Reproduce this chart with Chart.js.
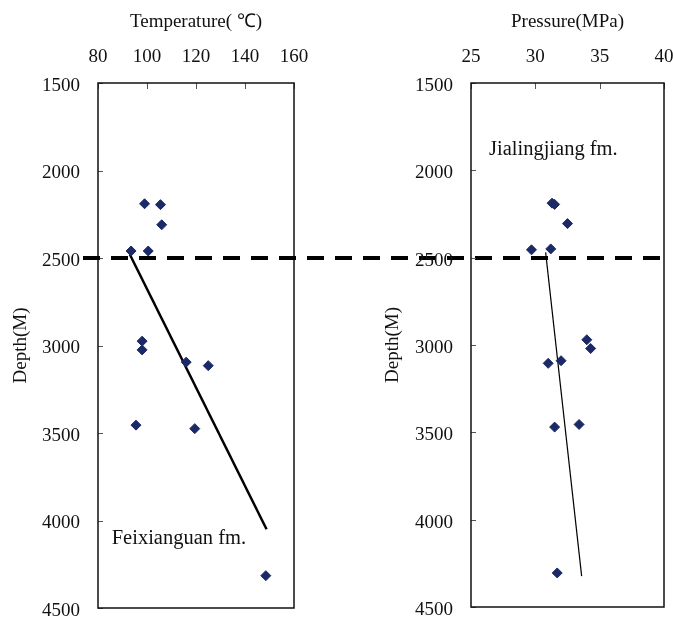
<!DOCTYPE html>
<html lang="en">
<head>
    <meta charset="UTF-8">
    <title>Temperature / Pressure vs Depth</title>
    <script src="https://cdn.jsdelivr.net/npm/chart.js"></script>
    <style>
        body, html {
            margin: 0;
            padding: 0;
            background: #fff;
        }
        .wrap {
            position: relative;
            width: 673px;
            height: 618px;
            background: #fff;
        }
        .wrap canvas {
            position: absolute;
            top: 0;
        }
    </style>
</head>
<body>
    <div class="wrap">
        <canvas id="tempChart" width="673" height="618" style="left:0"></canvas>
        <canvas id="presChart" width="333" height="618" style="left:340px"></canvas>
    </div>

    <script>
        // axis ticks
        const DEPTH_TICKS = [1500, 2000, 2500, 3000, 3500, 4000, 4500];
        const TEMP_TICKS = [80, 100, 120, 140, 160];
        const PRES_TICKS = [25, 30, 35, 40];

        // measured temperature (C) and depth (m)
        const tempValues = [99, 105.5, 106, 93.5, 100.5, 98, 98, 116, 125, 95.5, 119.5, 148.5];
        const tempDepths = [2190, 2195, 2310, 2460, 2460, 2975, 3025, 3095, 3115, 3455, 3475, 4315];

        // measured pressure (MPa) and depth (m)
        const presValues = [31.3, 31.5, 32.5, 29.7, 31.2, 34.0, 34.3, 31.0, 32.0, 31.5, 33.4, 31.7];
        const presDepths = [2188, 2195, 2305, 2455, 2450, 2970, 3020, 3105, 3090, 3470, 3455, 4305];

        // trend lines below the formation boundary
        const tempTrend = [93, 148.8];
        const tempTrendDepths = [2480, 4050];
        const presTrend = [30.8, 33.6];
        const presTrendDepths = [2470, 4323];

        // Jialingjiang / Feixianguan boundary
        const BOUNDARY_DEPTH = 2500;

        const FONT = "'Liberation Serif', 'Times New Roman', serif";
        const MARK = '#1B2A66';

        function pairs(xs, ys) {
            return xs.map((v, i) => ({ x: v, y: ys[i] }));
        }

        // box around the plot + short inward ticks
        const framePlugin = {
            id: 'frame',
            afterDatasetsDraw(chart) {
                const { ctx, chartArea: a, scales } = chart;
                ctx.save();
                ctx.strokeStyle = '#555';
                ctx.lineWidth = 1;
                ctx.beginPath();
                scales.y.ticks.forEach(t => {
                    const py = Math.round(scales.y.getPixelForValue(t.value)) + 0.5;
                    ctx.moveTo(a.left, py);
                    ctx.lineTo(a.left + 5, py);
                });
                scales.x.ticks.forEach(t => {
                    const px = Math.round(scales.x.getPixelForValue(t.value)) + 0.5;
                    ctx.moveTo(px, a.top);
                    ctx.lineTo(px, a.top + 6);
                });
                ctx.stroke();
                ctx.strokeStyle = '#111';
                ctx.lineWidth = 1.5;
                ctx.strokeRect(a.left, a.top, a.right - a.left, a.bottom - a.top);
                ctx.restore();
            }
        };

        // formation name written inside the plot
        const fmLabelPlugin = {
            id: 'fmLabel',
            afterDatasetsDraw(chart, args, opts) {
                if (!opts.text) return;
                const { ctx, scales } = chart;
                ctx.save();
                ctx.font = '20.5px ' + FONT;
                ctx.fillStyle = '#111';
                ctx.textBaseline = 'middle';
                ctx.textAlign = 'left';
                ctx.fillText(opts.text, scales.x.getPixelForValue(opts.x), scales.y.getPixelForValue(opts.y));
                ctx.restore();
            }
        };

        // dashed boundary line crossing both panels
        const boundaryPlugin = {
            id: 'boundary',
            afterDatasetsDraw(chart, args, opts) {
                if (!opts.depth) return;
                const { ctx, scales } = chart;
                const y = scales.y.getPixelForValue(opts.depth);
                ctx.save();
                ctx.strokeStyle = '#000';
                ctx.lineWidth = 4;
                ctx.setLineDash([17, 11]);
                ctx.beginPath();
                ctx.moveTo(opts.from, y);
                ctx.lineTo(opts.to, y);
                ctx.stroke();
                ctx.restore();
            }
        };

        function makePanel(id, cfg) {
            return new Chart(document.getElementById(id), {
                type: 'scatter',
                data: {
                    datasets: [{
                        data: pairs(cfg.values, cfg.depths),
                        pointStyle: 'rectRot',
                        pointRadius: 5,
                        pointBorderWidth: 1,
                        backgroundColor: MARK,
                        borderColor: MARK
                    }, {
                        data: pairs(cfg.trend, cfg.trendDepths),
                        showLine: true,
                        pointRadius: 0,
                        borderColor: '#000',
                        borderWidth: cfg.trendWidth
                    }]
                },
                options: {
                    responsive: false,
                    animation: false,
                    events: [],
                    layout: { padding: cfg.padding },
                    scales: {
                        x: {
                            position: 'top',
                            min: cfg.xTicks[0],
                            max: cfg.xTicks[cfg.xTicks.length - 1],
                            afterBuildTicks: s => { s.ticks = cfg.xTicks.map(v => ({ value: v })); },
                            afterFit: s => { s.height = 83; s.paddingLeft = 0; s.paddingRight = 0; },
                            grid: { display: false, drawTicks: false },
                            border: { display: false },
                            ticks: {
                                padding: 15,
                                color: '#111',
                                font: { family: FONT, size: 19 },
                                callback: v => String(v)
                            },
                            title: {
                                display: true,
                                text: cfg.xTitle,
                                color: '#111',
                                font: { family: FONT, size: 19 },
                                padding: { top: 11, bottom: 0 }
                            }
                        },
                        y: {
                            reverse: true,
                            min: DEPTH_TICKS[0],
                            max: DEPTH_TICKS[DEPTH_TICKS.length - 1],
                            afterBuildTicks: s => { s.ticks = DEPTH_TICKS.map(v => ({ value: v })); },
                            afterFit: s => { s.width = cfg.yWidth; s.paddingTop = 0; s.paddingBottom = 0; },
                            grid: { display: false, drawTicks: false },
                            border: { display: false },
                            ticks: {
                                padding: 18,
                                labelOffset: 3,
                                color: '#111',
                                font: { family: FONT, size: 19 },
                                callback: v => String(v)
                            },
                            title: {
                                display: true,
                                text: 'Depth(M)',
                                color: '#111',
                                font: { family: FONT, size: 19 },
                                padding: { top: 10, bottom: 0 }
                            }
                        }
                    },
                    plugins: {
                        legend: { display: false },
                        tooltip: { enabled: false },
                        fmLabel: cfg.label,
                        boundary: cfg.boundary || {}
                    }
                },
                plugins: [framePlugin, fmLabelPlugin, boundaryPlugin]
            });
        }

        const tempChart = makePanel('tempChart', {
            values: tempValues,
            depths: tempDepths,
            trend: tempTrend,
            trendDepths: tempTrendDepths,
            trendWidth: 2.5,
            xTicks: TEMP_TICKS,
            xTitle: 'Temperature( \u2103)',
            yWidth: 98,
            padding: { left: 0, top: 0, right: 379, bottom: 10 },
            label: { text: 'Feixianguan fm.', x: 85.6, y: 4105 },
            boundary: { depth: BOUNDARY_DEPTH, from: 83, to: 662 }
        });

        const presChart = makePanel('presChart', {
            values: presValues,
            depths: presDepths,
            trend: presTrend,
            trendDepths: presTrendDepths,
            trendWidth: 1.2,
            xTicks: PRES_TICKS,
            xTitle: 'Pressure(MPa)',
            yWidth: 99,
            padding: { left: 32, top: 0, right: 9, bottom: 11 },
            label: { text: 'Jialingjiang fm.', x: 26.4, y: 1880 }
        });
    </script>
</body>
</html>
